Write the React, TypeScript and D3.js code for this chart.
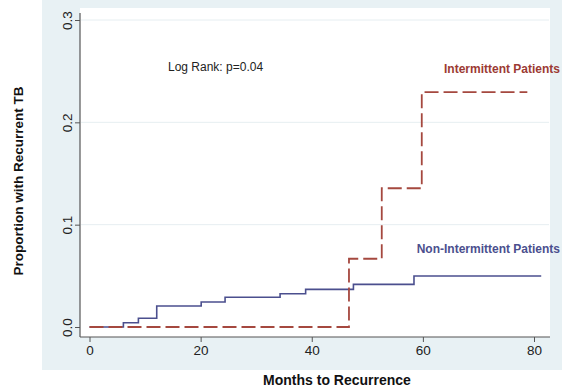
import React, { useEffect, useRef } from 'react';
import * as d3 from 'd3';

// step points: [months, proportion]
const nonIntermittentMonths = [0, 6.1, 8.8, 12.1, 20.1, 24.4, 34.3, 38.9, 47.5, 58.4, 81.3];
const nonIntermittentValues = [0, 0.0042, 0.0085, 0.0205, 0.0244, 0.029, 0.0325, 0.0368, 0.0417, 0.0498, 0.0498];
const intermittentMonths = [0, 46.7, 52.6, 59.8, 78.8];
const intermittentValues = [0, 0.0667, 0.1356, 0.2296, 0.2296];
const xTicks = [0, 20, 40, 60, 80];
const yTicks = [0, 0.1, 0.2, 0.3];

const App = () => {
  const svgRef = useRef<SVGSVGElement>(null);
  const width = 575;
  const height = 387;

  useEffect(() => {
    const svg = d3.select(svgRef.current);
    svg.selectAll('*').remove();

    const font = 'Liberation Sans, Arial, sans-serif';

    // Stata-style background panel
    svg.append('rect')
      .attr('x', 42).attr('y', 0)
      .attr('width', 520).attr('height', 370)
      .attr('fill', '#e8f1f4');
    svg.append('rect')
      .attr('x', 80).attr('y', 8)
      .attr('width', 470).attr('height', 329)
      .attr('fill', '#ffffff');

    const x = d3.scaleLinear().domain([0, 80]).range([89.5, 534]);
    const y = d3.scaleLinear().domain([0, 0.3]).range([327, 20]);

    // gridlines
    svg.append('g')
      .selectAll('line')
      .data(yTicks.filter(d => d > 0))
      .enter().append('line')
      .attr('x1', 81).attr('x2', 549)
      .attr('y1', d => y(d)).attr('y2', d => y(d))
      .attr('stroke', '#e6eef1')
      .attr('stroke-width', 1);

    // axes
    const xAxis = svg.append('g')
      .attr('transform', 'translate(0,337)')
      .call(d3.axisBottom(x).tickValues(xTicks).tickSize(5).tickSizeOuter(0).tickFormat(d3.format('d')));
    xAxis.select('.domain').remove();
    xAxis.selectAll('line').attr('stroke', '#555');
    xAxis.selectAll('text')
      .attr('y', 8)
      .style('font-family', font)
      .style('font-size', '13.5px')
      .attr('fill', '#222');

    const yAxis = svg.append('g')
      .attr('transform', 'translate(80,0)')
      .call(d3.axisLeft(y).tickValues(yTicks).tickSize(5).tickSizeOuter(0).tickFormat(d3.format('.1f')));
    yAxis.select('.domain').remove();
    yAxis.selectAll('line').attr('stroke', '#555');
    yAxis.selectAll('text')
      .attr('x', 0).attr('dy', 0)
      .attr('transform', 'translate(-8,0) rotate(-90)')
      .attr('text-anchor', 'middle')
      .style('font-family', font)
      .style('font-size', '13.5px')
      .attr('fill', '#222');

    svg.append('line')
      .attr('x1', 80).attr('x2', 550).attr('y1', 337).attr('y2', 337)
      .attr('stroke', '#555').attr('stroke-width', 1.2);
    svg.append('line')
      .attr('x1', 80).attr('x2', 80).attr('y1', 13).attr('y2', 337)
      .attr('stroke', '#555').attr('stroke-width', 1.2);

    const blueData = nonIntermittentMonths.map((m, i) => [m, nonIntermittentValues[i]] as [number, number]);
    const redData = intermittentMonths.map((m, i) => [m, intermittentValues[i]] as [number, number]);
    const step = d3.line<[number, number]>()
      .x(d => x(d[0]))
      .y(d => y(d[1]))
      .curve(d3.curveStepAfter);

    svg.append('path')
      .datum(blueData)
      .attr('d', step)
      .attr('fill', 'none')
      .attr('stroke', '#4b4f8e')
      .attr('stroke-width', 1.6);

    svg.append('path')
      .datum(redData)
      .attr('d', step)
      .attr('fill', 'none')
      .attr('stroke', '#a5483f')
      .attr('stroke-width', 1.8)
      .attr('stroke-dasharray', '14,5');

    // annotations
    svg.append('text')
      .attr('x', 168).attr('y', 71)
      .style('font-family', font)
      .style('font-size', '12px')
      .attr('fill', '#222')
      .text('Log Rank: p=0.04');

    svg.append('text')
      .attr('x', 560).attr('y', 73)
      .attr('text-anchor', 'end')
      .style('font-family', font)
      .style('font-size', '12px')
      .style('font-weight', 'bold')
      .attr('fill', '#9c3a33')
      .text('Intermittent Patients');

    svg.append('text')
      .attr('x', 560).attr('y', 253)
      .attr('text-anchor', 'end')
      .style('font-family', font)
      .style('font-size', '12px')
      .style('font-weight', 'bold')
      .attr('fill', '#4b4f8e')
      .text('Non-Intermittent Patients');

    // axis titles
    svg.append('text')
      .attr('x', 337).attr('y', 385)
      .attr('text-anchor', 'middle')
      .style('font-family', font)
      .style('font-size', '14px')
      .style('font-weight', 'bold')
      .attr('fill', '#111')
      .text('Months to Recurrence');

    svg.append('text')
      .attr('transform', 'translate(23,181) rotate(-90)')
      .attr('text-anchor', 'middle')
      .style('font-family', font)
      .style('font-size', '13.5px')
      .style('font-weight', 'bold')
      .attr('fill', '#111')
      .text('Proportion with Recurrent TB');
  }, []);

  return (
    <svg
      ref={svgRef}
      width={width}
      height={height}
      style={{ position: 'absolute', left: 0, top: 0, background: '#fff' }}
    />
  );
};

export default App;
